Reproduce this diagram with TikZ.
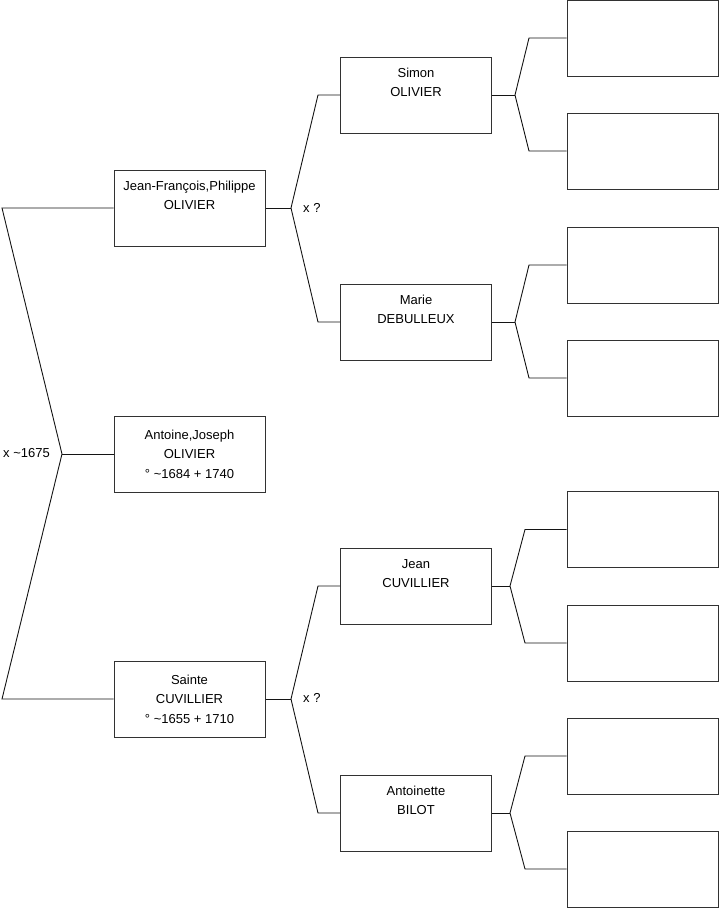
\documentclass[tikz,border=0pt]{standalone}
\usepackage{fontspec}
\setmainfont{Liberation Sans}
\usepackage{tikz}
\usetikzlibrary{positioning}
\definecolor{treeline}{RGB}{20,20,20}
\definecolor{treebox}{RGB}{50,50,50}

\begin{document}
\begin{tikzpicture}[
    x=1pt,y=-1pt,
    person/.style={draw=treebox,line width=1pt,fill=white,
                   minimum width=151pt,minimum height=76pt,inner sep=0pt,
                   align=center,font=\fontsize{13}{19.5}\selectfont},
    link/.style={treeline,line width=0.9pt},
    union/.style={font=\fontsize{13}{15}\selectfont,anchor=west,inner sep=0pt}
  ]
    \useasboundingbox (0,0) rectangle (719,908);

    % generation 1
    \node[person] (jf) at (189.5,208) {Jean-François,Philippe\\OLIVIER\\\strut};
    \node[person] (aj) at (189.5,454) {Antoine,Joseph\\OLIVIER\\° \textasciitilde1684 + 1740};
    \node[person] (sc) at (189.5,699) {Sainte\\CUVILLIER\\° \textasciitilde1655 + 1710};

    % generation 2
    \node[person] (simon) at (416,95) {Simon\\OLIVIER\\\strut};
    \node[person] (marie) at (416,322) {Marie\\DEBULLEUX\\\strut};
    \node[person] (jean) at (416,586) {Jean\\CUVILLIER\\\strut};
    \node[person] (antoinette) at (416,813) {Antoinette\\BILOT\\\strut};

    % generation 3 (unknown)
    \node[person] (s1) at (642.5,38) {};
    \node[person] (s2) at (642.5,151) {};
    \node[person] (m1) at (642.5,265) {};
    \node[person] (m2) at (642.5,378) {};
    \node[person] (j1) at (642.5,529.5) {};
    \node[person] (j2) at (642.5,643) {};
    \node[person] (a1) at (642.5,756) {};
    \node[person] (a2) at (642.5,869) {};

    % forks
    \coordinate (k0) at (62,454);
    \coordinate (k0a) at (2,208);
    \coordinate (k0b) at (2,699);
    \coordinate (k1) at (291,208);
    \coordinate (k1a) at (318,95);
    \coordinate (k1b) at (318,322);
    \coordinate (k2) at (291,699);
    \coordinate (k2a) at (318,586);
    \coordinate (k2b) at (318,813);
    \coordinate (k3) at (515,95);
    \coordinate (k3a) at (529,38);
    \coordinate (k3b) at (529,151);
    \coordinate (k4) at (515,322);
    \coordinate (k4a) at (529,265);
    \coordinate (k4b) at (529,378);
    \coordinate (k5) at (510,586);
    \coordinate (k5a) at (525,529.5);
    \coordinate (k5b) at (525,643);
    \coordinate (k6) at (510,813);
    \coordinate (k6a) at (525,756);
    \coordinate (k6b) at (525,869);

    \draw[link] (jf.west) -- (k0a) -- (k0) -- (k0b) -- (sc.west);
    \draw[link] (k0) -- (aj.west);
    \draw[link] (jf.east) -- (k1);
    \draw[link] (simon.west) -- (k1a) -- (k1) -- (k1b) -- (marie.west);
    \draw[link] (sc.east) -- (k2);
    \draw[link] (jean.west) -- (k2a) -- (k2) -- (k2b) -- (antoinette.west);
    \draw[link] (simon.east) -- (k3);
    \draw[link] (s1.west) -- (k3a) -- (k3) -- (k3b) -- (s2.west);
    \draw[link] (marie.east) -- (k4);
    \draw[link] (m1.west) -- (k4a) -- (k4) -- (k4b) -- (m2.west);
    \draw[link] (jean.east) -- (k5);
    \draw[link] (j1.west) -- (k5a) -- (k5) -- (k5b) -- (j2.west);
    \draw[link] (antoinette.east) -- (k6);
    \draw[link] (a1.west) -- (k6a) -- (k6) -- (k6b) -- (a2.west);

    % marriages
    \node[union] (m0) at (3,453) {x \textasciitilde1675};
    \node[union] (mx1) at (303,208) {x ?};
    \node[union] (mx2) at (303,698) {x ?};
\end{tikzpicture}
\end{document}
